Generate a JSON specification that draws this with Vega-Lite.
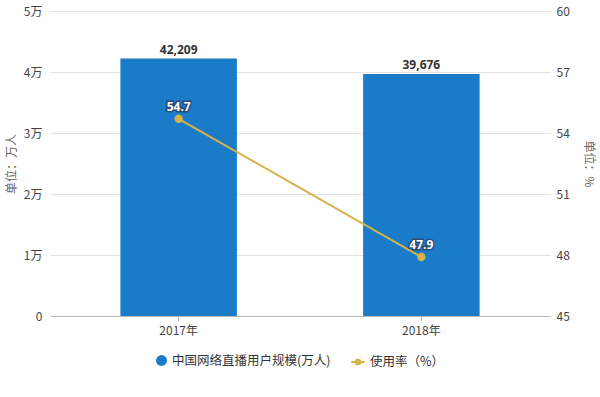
{
  "$schema": "https://vega.github.io/schema/vega-lite/v6.json",
  "width": 500,
  "height": 305,
  "autosize": {"type": "none"},
  "padding": {"left": 50, "top": 11, "right": 50, "bottom": 81},
  "background": "white",
  "config": {
    "font": "Noto Sans CJK SC",
    "view": {"stroke": null},
    "axis": {"labelFont": "Noto Sans CJK SC", "titleFont": "Noto Sans CJK SC", "labelColor": "#444", "titleColor": "#666", "labelFontSize": 12, "titleFontSize": 12, "titleFontWeight": "normal"}
  },
  "data": {
    "values": [
      {"year": "2017年", "users": 42209, "rate": 54.7, "s1": "中国网络直播用户规模(万人)", "s2": "使用率（%）"},
      {"year": "2018年", "users": 39676, "rate": 47.9, "s1": "中国网络直播用户规模(万人)", "s2": "使用率（%）"}
    ]
  },
  "encoding": {
    "x": {
      "field": "year", "type": "nominal",
      "scale": {"paddingInner": 0.52, "paddingOuter": 0.29},
      "axis": {"title": null, "labelAngle": 0, "domainColor": "#bbb", "tickColor": "#bbb", "tickSize": 5, "labelPadding": 4, "labelColor": "#444"}
    }
  },
  "layer": [
    {
      "encoding": {
        "y": {
          "field": "users", "type": "quantitative",
          "scale": {"domain": [0, 50000], "nice": false},
          "axis": {
            "orient": "left", "title": "单位：万人", "values": [0, 10000, 20000, 30000, 40000, 50000],
            "labelExpr": "datum.value == 0 ? '0' : (datum.value / 10000) + '万'",
            "grid": true, "gridColor": "#e3e3e3", "domain": false, "ticks": false,
            "labelPadding": 8, "titlePadding": 5
          }
        }
      },
      "layer": [
        {
          "mark": {"type": "bar", "color": "#1a7bc9"},
          "encoding": {
            "fill": {
              "field": "s1", "type": "nominal",
              "scale": {"range": ["#1a7bc9"]},
              "legend": {"title": null, "orient": "none", "legendX": 105, "legendY": 343, "symbolType": "circle", "symbolSize": 120, "labelFontSize": 12.5, "labelLimit": 400, "labelColor": "#333", "labelFont": "Noto Sans CJK SC"}
            }
          }
        },
        {
          "mark": {"type": "text", "dy": -9, "fontWeight": "bold", "fontSize": 12, "color": "#333", "font": "Noto Sans"},
          "encoding": {"text": {"field": "users", "type": "quantitative", "format": ","}}
        }
      ]
    },
    {
      "encoding": {
        "y": {
          "field": "rate", "type": "quantitative",
          "scale": {"domain": [45, 60], "nice": false, "zero": false},
          "axis": {
            "orient": "right", "title": "单位：%", "values": [45, 48, 51, 54, 57, 60],
            "grid": false, "domain": false, "ticks": false,
            "labelPadding": 6, "titlePadding": 12, "titleAngle": 90
          }
        }
      },
      "layer": [
        {
          "mark": {"type": "line", "strokeWidth": 2},
          "encoding": {
            "stroke": {
              "field": "s2", "type": "nominal",
              "scale": {"range": ["#d6b24a"]},
              "legend": {"title": null, "orient": "none", "legendX": 300, "legendY": 343, "symbolType": "M-1,0L-0.35,0M0.35,0L1,0M-0.35,0A0.35,0.35 0 1,1 0.35,0A0.35,0.35 0 1,1 -0.35,0", "symbolSize": 180, "symbolStrokeWidth": 2, "symbolFillColor": "#d6b24a", "labelFontSize": 12.5, "labelLimit": 400, "labelColor": "#333", "labelFont": "Noto Sans CJK SC"}
            }
          }
        },
        {
          "mark": {"type": "point", "filled": true, "size": 70, "color": "#d6b24a", "opacity": 1}
        },
        {
          "mark": {"type": "text", "dy": -12, "fontSize": 12, "fontWeight": "bold", "font": "Noto Sans", "stroke": "#2a4d78", "strokeWidth": 3, "fill": "#2a4d78"},
          "encoding": {"text": {"field": "rate", "type": "quantitative", "format": ".1f"}}
        },
        {
          "mark": {"type": "text", "dy": -12, "fontSize": 12, "fontWeight": "bold", "font": "Noto Sans", "fill": "white"},
          "encoding": {"text": {"field": "rate", "type": "quantitative", "format": ".1f"}}
        }
      ]
    }
  ],
  "resolve": {"scale": {"y": "independent"}}
}
